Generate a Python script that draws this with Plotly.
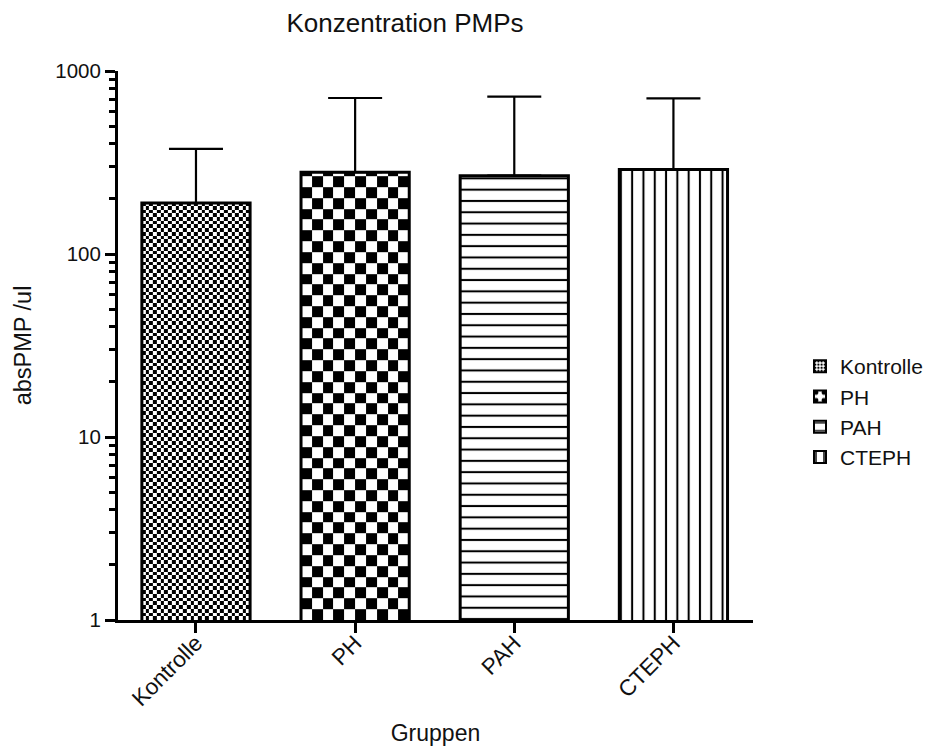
import numpy as np
import plotly.graph_objects as go

# ---- data ----
categories = ["Kontrolle", "PH", "PAH", "CTEPH"]
means = [190, 280, 268, 290]
err_top = [375, 712, 724, 709]
y_tick_vals = [1, 10, 100, 1000]
y_tick_text = ["1", "10", "100", "1000"]

# ---- layout constants ----
W, H = 936, 753
ML, MR, MT, MB = 118, 183, 71, 133
X_RANGE = [-0.49, 3.5]
Y_RANGE_LOG = [0, 3]
BAR_W = 0.68
FONT = "Liberation Sans, Arial, sans-serif"

plot_w = W - ML - MR
plot_h = H - MT - MB
px_per_unit = plot_w / (X_RANGE[1] - X_RANGE[0])
px_per_decade = plot_h / (Y_RANGE_LOG[1] - Y_RANGE_LOG[0])

fig = go.Figure()


def checker(xc, top, ncols):
    """checkerboard texture filling a bar (drawn as a heatmap)."""
    x_edges = np.linspace(xc - BAR_W / 2, xc + BAR_W / 2, ncols + 1)
    cell_px = (BAR_W / ncols) * px_per_unit
    step = cell_px / px_per_decade
    ltop = np.log10(top)
    le = list(np.arange(0, ltop, step))
    le.append(ltop)
    y_edges = 10 ** np.array(le)
    nrows = len(y_edges) - 1
    z = [[(r + c) % 2 for c in range(ncols)] for r in range(nrows)]
    return go.Heatmap(x=x_edges, y=y_edges, z=z,
                      colorscale=[[0, "white"], [1, "black"]],
                      zmin=0, zmax=1, showscale=False, zsmooth=False,
                      hoverinfo="skip")


fig.add_trace(checker(0, means[0], 29))
fig.add_trace(checker(1, means[1], 10))

err_common = dict(type="data", symmetric=False, color="black",
                  thickness=2.2, width=27)

# legend-only entries for checkerboard groups
fig.add_trace(go.Bar(x=[None], y=[None], name=categories[0],
                     marker=dict(color="white", line=dict(color="black", width=2),
                                 pattern=dict(shape=".", size=4, solidity=0.45,
                                              fgcolor="black", bgcolor="white",
                                              fillmode="replace"))))
fig.add_trace(go.Bar(x=[None], y=[None], name=categories[1],
                     marker=dict(color="white", line=dict(color="black", width=2),
                                 pattern=dict(shape=".", size=12, solidity=0.3,
                                              fgcolor="black", bgcolor="white",
                                              fillmode="replace"))))

# outlines for checkerboard bars
for i in range(2):
    fig.add_trace(go.Bar(x=[i], y=[means[i]], width=BAR_W, showlegend=False,
                         marker=dict(color="rgba(0,0,0,0)",
                                     line=dict(color="black", width=3)),
                         error_y=dict(array=[err_top[i] - means[i]], arrayminus=[0],
                                      **err_common)))

patterns = {2: "-", 3: "|"}
for i in (2, 3):
    fig.add_trace(go.Bar(x=[i], y=[means[i]], width=BAR_W, name=categories[i],
                         marker=dict(color="white",
                                     line=dict(color="black", width=3),
                                     pattern=dict(shape=patterns[i], size=11.3,
                                                  solidity=0.18, fgcolor="black",
                                                  bgcolor="white",
                                                  fillmode="replace")),
                         error_y=dict(array=[err_top[i] - means[i]], arrayminus=[0],
                                      **err_common)))

fig.update_layout(
    width=W, height=H,
    margin=dict(l=ML, r=MR, t=MT, b=MB, autoexpand=False),
    paper_bgcolor="white", plot_bgcolor="white",
    barmode="overlay",
    font=dict(family=FONT, color="#111", size=22),
    title=dict(text="Konzentration PMPs", x=405 / W, xanchor="center",
               y=1 - 23 / H, yanchor="middle", yref="container",
               font=dict(size=26, family=FONT, color="#111")),
    showlegend=True,
    legend=dict(x=(800 - ML) / plot_w, xanchor="left",
                y=(H - MB - 412) / plot_h, yanchor="middle",
                font=dict(size=21, family=FONT, color="#111"),
                bgcolor="rgba(0,0,0,0)", borderwidth=0,
                itemsizing="constant"),
)

fig.update_xaxes(
    range=X_RANGE, tickvals=list(range(len(categories))), ticktext=categories,
    tickangle=-45, showline=True, linecolor="black", linewidth=3,
    ticks="outside", ticklen=10, tickwidth=3, tickcolor="black",
    ticklabelstandoff=-12,
    showgrid=False, zeroline=False,
    tickfont=dict(size=22.5, family=FONT, color="#111"),
    title=dict(text="Gruppen", font=dict(size=23, family=FONT, color="#111")),
)

minor_vals = [m * d for d in (1, 10, 100) for m in range(2, 10)]
fig.update_yaxes(
    type="log", range=Y_RANGE_LOG, tickvals=y_tick_vals, ticktext=y_tick_text,
    showline=True, linecolor="black", linewidth=3,
    ticks="outside", ticklen=10, tickwidth=3, tickcolor="black",
    minor=dict(tickvals=minor_vals, ticks="outside", ticklen=6, tickwidth=3,
               tickcolor="black", showgrid=False),
    showgrid=False, zeroline=False,
    tickfont=dict(size=20.5, family=FONT, color="#111"),
    title=dict(text="absPMP /ul", standoff=18,
               font=dict(size=23.5, family=FONT, color="#111")),
)

fig.write_html("out.html")
